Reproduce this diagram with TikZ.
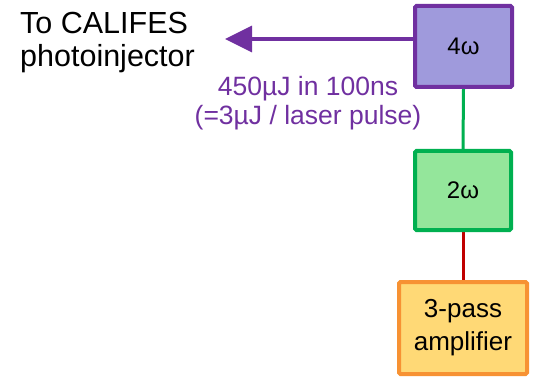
\documentclass[tikz,border=0pt]{standalone}
\usepackage{fontspec}
\setmainfont{Liberation Sans}
\usetikzlibrary{arrows.meta,backgrounds}
\definecolor{quadline}{HTML}{7030A0}
\definecolor{quadfill}{HTML}{9F9ADC}
\definecolor{dblline}{HTML}{00B050}
\definecolor{dblfill}{HTML}{94E69B}
\definecolor{ampline}{HTML}{F79233}
\definecolor{ampfill}{HTML}{FFD976}
\definecolor{feedline}{HTML}{C00000}
\begin{document}
\begin{tikzpicture}[x=1pt,y=-1pt,
  stagebox/.style={draw, line width=4pt, rounded corners=1.5pt, inner sep=0pt,
    align=center, font=\fontsize{24}{31}\selectfont},
  beam/.style={line width=3pt}]
\useasboundingbox (0,0) rectangle (541,377);
% harmonic stages and amplifier
\node[stagebox, draw=quadline, fill=quadfill, minimum width=97pt, minimum height=81pt] (quad) at (463.5,46.5) {4ω};
\node[stagebox, draw=dblline, fill=dblfill, minimum width=96pt, minimum height=79pt] (dbl) at (463,190.5) {2ω};
\node[stagebox, draw=ampline, fill=ampfill, minimum width=128pt, minimum height=92pt,
  font=\fontsize{26}{33}\selectfont] (amp) at (463,328) {3-pass\\amplifier};
% beam path between stages
\begin{scope}[on background layer]
\draw[beam, dblline] (quad.south) -- (dbl.north);
\draw[beam, feedline] (dbl.south) -- (amp.north);
\end{scope}
% output towards the photoinjector
\coordinate (tip) at (225,39);
\draw[beam, line width=3.5pt, quadline, -{Triangle[length=27pt,width=26pt]}] (tip -| quad.west) -- (tip);
\node[anchor=north west, inner sep=0pt, align=left, font=\fontsize{30.5}{33}\selectfont] (dest) at (20,12) {To CALIFES\\photoinjector};
\node[inner sep=0pt, align=center, text=quadline, font=\fontsize{26.5}{28.5}\selectfont] (energy) at (308,103) {450µJ in 100ns\\(=3µJ / laser pulse)};
\end{tikzpicture}
\end{document}
